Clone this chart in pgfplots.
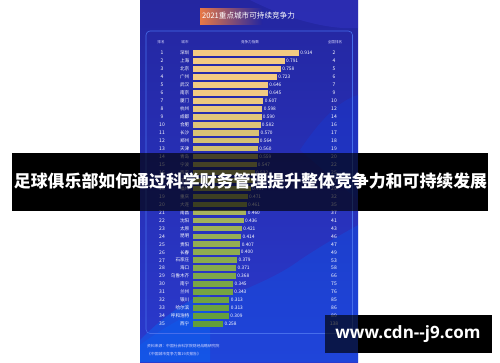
\documentclass[border=0pt]{standalone}
\usepackage{pgfplots}
\pgfplotsset{compat=1.18}
\usepackage{pgfplotstable}
\usepackage{fontspec}
\setmainfont{Noto Sans CJK SC}
\newfontfamily\wmfont{Open Sans}
\definecolor{tanc}{RGB}{242,202,130}
\definecolor{greenc}{RGB}{98,158,58}
\definecolor{paneltop}{RGB}{36,38,160}
\definecolor{panelbot}{RGB}{42,58,206}
\definecolor{boxline}{RGB}{70,110,235}
\definecolor{titleor}{RGB}{232,120,70}
\foreach \i in {0,...,34}{%
  \pgfmathtruncatemacro\p{100-max(0,\i-5)*100/29}%
  \xglobal\colorlet{bc\i}{tanc!\p!greenc}}
\pgfplotstableread{
rank city value nat
1 深圳 0.914 2
2 上海 0.791 4
3 北京 0.758 5
4 广州 0.723 6
5 武汉 0.646 7
6 南京 0.645 9
7 厦门 0.607 10
8 杭州 0.598 12
9 成都 0.590 14
10 合肥 0.582 16
11 长沙 0.570 17
12 郑州 0.564 18
13 天津 0.560 19
14 青岛 0.559 20
15 宁波 0.547 22
16 西安 0.532 25
17 济南 0.518 27
18 福州 0.497 29
19 重庆 0.471 32
20 大连 0.461 35
21 南昌 0.460 37
22 沈阳 0.436 41
23 太原 0.421 43
24 昆明 0.414 46
25 贵阳 0.407 47
26 长春 0.400 49
27 石家庄 0.379 53
28 海口 0.371 58
29 乌鲁木齐 0.368 66
30 南宁 0.345 75
31 兰州 0.343 76
32 银川 0.313 85
33 哈尔滨 0.313 86
34 呼和浩特 0.309 89
35 西宁 0.258 138
}\data
\begin{document}
\begin{tikzpicture}
\begin{scope}[x=1pt,y=-1pt]
\fill[white] (0,0) rectangle (500,362);
\shade[top color=paneltop, bottom color=panelbot] (140,0) rectangle (358,362);
\begin{scope}
\clip (140,0) rectangle (358,362);
\fill[fill=blue!60!cyan, opacity=0.25] (140,345) .. controls (200,300) and (260,290) .. (300,260) .. controls (330,240) and (350,230) .. (358,225) -- (358,362) -- (140,362) -- cycle;
\fill[fill=blue!55!cyan, opacity=0.35] (140,340) .. controls (170,310) and (190,300) .. (210,290) -- (210,362) -- (140,362) -- cycle;
\fill[fill=blue!70!white, opacity=0.18] (250,0) .. controls (290,20) and (330,30) .. (358,28) -- (358,0) -- cycle;
\fill[fill=blue!70!cyan, opacity=0.18] (300,150) .. controls (320,120) and (340,100) .. (358,95) -- (358,200) -- cycle;
\end{scope}
\draw[boxline, line width=0.6pt, rounded corners=4pt] (146,31) rectangle (352.5,333.5);
\shade[left color=titleor, right color=paneltop, shading angle=90] (200,8) rectangle (262,24);
\node[white, font=\fontsize{7.6}{8}\selectfont] at (248.5,16) {2021重点城市可持续竞争力};
\begin{scope}[every node/.style={text=white!85!blue, font=\fontsize{3.6}{4}\selectfont}]
\node at (161,42) {排名};
\node at (185,42) {城市};
\node at (250,42) {竞争力指数};
\node at (335,42) {全国排名};
\end{scope}
\node[anchor=west, text=white!85!blue, font=\fontsize{3.8}{4}\selectfont, inner sep=0pt] at (147,346) {资料来源：中国社会科学院财经战略研究院};
\node[anchor=west, text=white!85!blue, font=\fontsize{3.8}{4}\selectfont, inner sep=0pt] at (147,354) {《中国城市竞争力第19次报告》};
\end{scope}
\begin{axis}[at={(0,0)}, anchor=north west, width=500pt, height=362pt,
  scale only axis, hide axis, clip=false,
  xmin=-1.6722, xmax=2.6531, ymin=-5.650, ymax=39.77, y dir=reverse]
\pgfplotsinvokeforeach{0,...,34}{
\addplot[xbar, bar shift=0pt, bar width=5.6pt, draw=none, fill=bc#1,
  restrict expr to domain={\coordindex}{#1:#1},
  point meta=x,
  nodes near coords={\pgfmathprintnumber[fixed,fixed zerofill,precision=3,assume math mode=true]{\pgfplotspointmeta}},
  nodes near coords align={anchor=west},
  nodes near coords style={text=white, font=\fontsize{4.8}{5}\selectfont, inner sep=1.2pt}]
  table[x=value, y=rank] {\data};
}
\addplot[only marks, mark=*, mark size=0pt, mark options={draw=none, fill=none}, point meta=explicit symbolic,
  nodes near coords, nodes near coords align={anchor=center},
  nodes near coords style={text=white, opacity=1, font=\fontsize{5}{5}\selectfont, inner sep=0pt}]
  table[x expr=-0.2708, y=rank, meta=rank] {\data};
\addplot[only marks, mark=*, mark size=0pt, mark options={draw=none, fill=none}, point meta=explicit symbolic,
  nodes near coords, nodes near coords align={anchor=east},
  nodes near coords style={text=white, opacity=1, font=\fontsize{4.6}{5}\selectfont, inner sep=0pt}]
  table[x expr=-0.0329, y=rank, meta=city] {\data};
\addplot[only marks, mark=*, mark size=0pt, mark options={draw=none, fill=none}, point meta=explicit symbolic,
  nodes near coords, nodes near coords align={anchor=center},
  nodes near coords style={text=white, opacity=1, font=\fontsize{5}{5}\selectfont, inner sep=0pt}]
  table[x expr=1.2171, y=rank, meta=nat] {\data};
\end{axis}
\begin{scope}[x=1pt,y=-1pt]
\fill[black] (12,152.5) rectangle (140,210.5);
\fill[black] (358,152.5) rectangle (488,210.5);
\fill[black, opacity=0.65] (140,152.5) rectangle (358,210.5);
\node[white, font=\bfseries\fontsize{16.9}{17}\selectfont, inner sep=0pt] at (250.5,181.5) {足球俱乐部如何通过科学财务管理提升整体竞争力和可持续发展};
\fill[black] (358,315) rectangle (491.5,353.3);
\fill[black, opacity=0.65] (325,315) rectangle (358,353.3);
\node[white, font=\wmfont\bfseries\fontsize{17}{18}\selectfont, inner sep=0pt] at (408,334) {www.cdn--j9.com};
\end{scope}
\pgfresetboundingbox
\useasboundingbox (0,0) rectangle (500pt,-362pt);
\end{tikzpicture}
\end{document}
